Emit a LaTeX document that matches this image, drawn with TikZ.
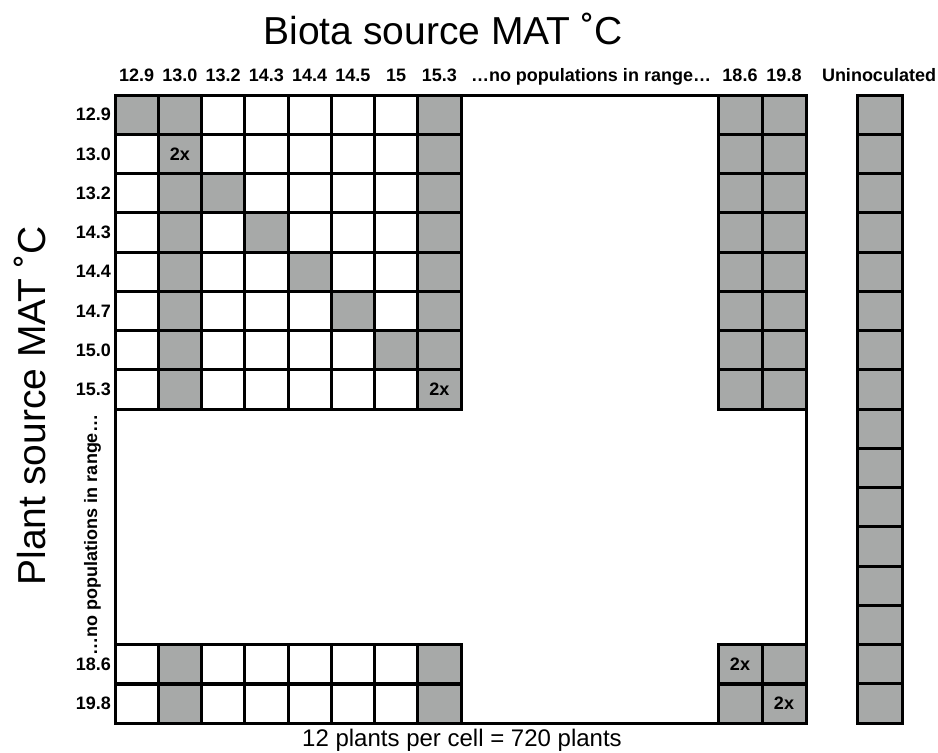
\documentclass[tikz,border=0pt]{standalone}
\usepackage{fontspec}
\setmainfont{Liberation Sans}
\definecolor{cellgray}{HTML}{A7A9A8}
\begin{document}
\begin{tikzpicture}[x=1pt,y=-1pt,
  cell/.style={draw=black, line width=3pt, minimum width=43.25pt, minimum height=39.25pt, inner sep=0pt, outer sep=0pt},
  rcell/.style={cell, minimum width=44pt, fill=cellgray},
  ucell/.style={cell, minimum width=45pt, fill=cellgray},
  lab/.style={font=\bfseries\fontsize{18}{18}\selectfont, inner sep=0pt},
  hlab/.style={lab, anchor=base},
  big/.style={font=\fontsize{39}{39}\selectfont, inner sep=0pt},
]
\useasboundingbox (0,0) rectangle (938,753);
% titles
\node[big] (title) at (443,29) {Biota source MAT ˚C};
\node[big, rotate=90] (ytitle) at (30,406) {Plant source MAT ˚C};
\node[font=\fontsize{24}{24}\selectfont, inner sep=0pt] (note) at (462,740) {12 plants per cell = 720 plants};
% frame
\node[draw=black, line width=3pt, minimum width=691pt, minimum height=628pt, inner sep=0pt, outer sep=0pt, anchor=north west] (frame) at (115,95) {};
% column headers
\foreach \lbl [count=\c] in {12.9,13.0,13.2,14.3,14.4,14.5,15,15.3}{
  \node[hlab] (h-\c) at ({115+43.25*(\c-0.5)},81.5) {\lbl};
}
\node[hlab] (hgap) at (591,81.5) {…no populations in range…};
\node[hlab] (h-r1) at (740,81.5) {18.6};
\node[hlab] (h-r2) at (784,81.5) {19.8};
\node[hlab] (h-u) at (879,81.5) {Uninoculated};
% row headers
\foreach \lbl [count=\r] in {12.9,13.0,13.2,14.3,14.4,14.7,15.0,15.3}{
  \node[lab, anchor=east] (v-\r) at (111,{95+39.25*(\r-0.5)}) {\lbl};
}
\node[lab, anchor=east] (v-9) at (111,664.125) {18.6};
\node[lab, anchor=east] (v-10) at (111,703.625) {19.8};
\node[lab, rotate=90, anchor=base] (vgap) at (97,535) {…no populations in range…};
% upper left block
\foreach \r in {1,...,8}{
  \foreach \c in {1,...,8}{
    \pgfmathtruncatemacro{\g}{or(or(\c==2,\c==8),\c==\r)}
    \ifnum\g=1 \def\fc{cellgray}\else\def\fc{white}\fi
    \node[cell, fill=\fc] (m-\r-\c) at ({115+43.25*(\c-0.5)},{95+39.25*(\r-0.5)}) {};
  }
}
% lower left block
\foreach \r/\y in {9/664.125,10/703.625}{
  \foreach \c in {1,...,8}{
    \pgfmathtruncatemacro{\g}{or(\c==2,\c==8)}
    \ifnum\g=1 \def\fc{cellgray}\else\def\fc{white}\fi
    \node[cell, fill=\fc] (m-\r-\c) at ({115+43.25*(\c-0.5)},\y) {};
  }
}
% right block
\foreach \r in {1,...,8}{
  \node[rcell] (r-\r-1) at (740,{95+39.25*(\r-0.5)}) {};
  \node[rcell] (r-\r-2) at (784,{95+39.25*(\r-0.5)}) {};
}
\foreach \r/\y in {9/664.125,10/703.625}{
  \node[rcell] (r-\r-1) at (740,\y) {};
  \node[rcell] (r-\r-2) at (784,\y) {};
}
% uninoculated column
\foreach \r in {1,...,16}{
  \node[ucell] (u-\r) at (879.5,{95+39.25*(\r-0.5)}) {};
}
% 2x labels
\node[lab] (x1) at (m-2-2) {2x};
\node[lab] (x2) at (m-8-8) {2x};
\node[lab] (x3) at (r-9-1) {2x};
\node[lab] (x4) at (r-10-2) {2x};
\end{tikzpicture}
\end{document}
